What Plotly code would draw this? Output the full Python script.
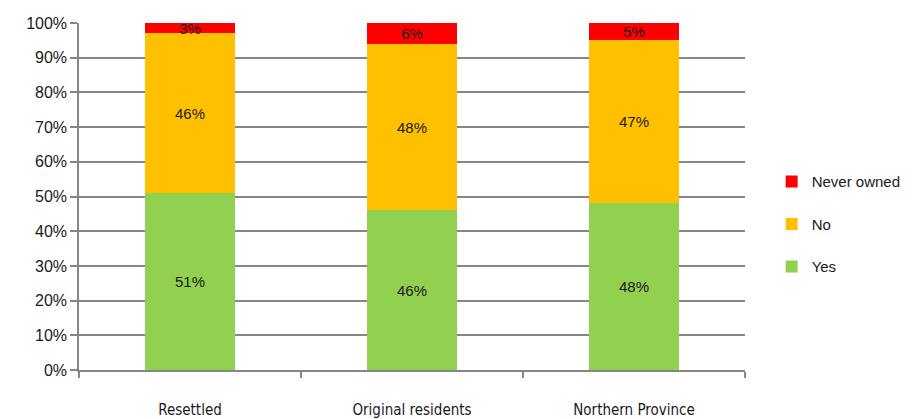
import plotly.graph_objects as go

categories = ["Resettled", "Original residents", "Northern Province"]
yes_share = [0.51, 0.46, 0.48]
no_share = [0.46, 0.48, 0.47]
never_share = [0.03, 0.06, 0.05]
y_ticks = [0, 0.1, 0.2, 0.3, 0.4, 0.5, 0.6, 0.7, 0.8, 0.9, 1.0]

series = [
    ("Yes", yes_share, "#92D050", 3),
    ("No", no_share, "#FFC000", 2),
    ("Never owned", never_share, "#FF0000", 1),
]

fig = go.Figure()
for i, (name, vals, color, rank) in enumerate(series):
    fig.add_trace(go.Bar(
        x=categories, y=vals, name=name,
        marker=dict(color=color, line=dict(width=0)),
        texttemplate="%{y:.0%}", textposition="inside",
        insidetextanchor="middle",
        textfont=dict(family="Liberation Sans", size=15, color="#1a1a1a"),
        legendgroup=f"g{i}", legendrank=rank,
    ))

axis_gray = "#868686"
fig.update_layout(
    barmode="stack",
    bargap=0.596,
    width=918, height=419,
    margin=dict(l=79, r=164, t=23, b=49),
    plot_bgcolor="white", paper_bgcolor="white",
    uniformtext=dict(minsize=15, mode="show"),
    font=dict(family="Liberation Sans", size=15, color="#1a1a1a"),
    legend=dict(
        x=1.04, y=0.42, xanchor="left", yanchor="middle",
        traceorder="grouped", tracegroupgap=20,
        font=dict(family="Liberation Sans", size=15, color="#1a1a1a"),
        itemwidth=30,
    ),
    showlegend=True,
)
fig.update_yaxes(
    range=[0, 1], tickvals=y_ticks, tickformat=".0%",
    showgrid=True, gridcolor=axis_gray, gridwidth=1.5,
    showline=True, linecolor=axis_gray, linewidth=1.5,
    ticks="outside", ticklen=7, tickcolor=axis_gray, tickwidth=1.5,
    zeroline=False, automargin=False,
    tickfont=dict(family="Liberation Sans", size=16, color="#1a1a1a"),
)
fig.update_xaxes(
    showgrid=False, showline=True, linecolor=axis_gray, linewidth=1.5,
    ticks="outside", tickson="boundaries", ticklen=6,
    tickcolor=axis_gray, tickwidth=1.5,
    ticklabelstandoff=25, automargin=False,
    tickfont=dict(family="DejaVu Sans Condensed", size=15, color="#1a1a1a"),
)

fig.write_html("out.html")
